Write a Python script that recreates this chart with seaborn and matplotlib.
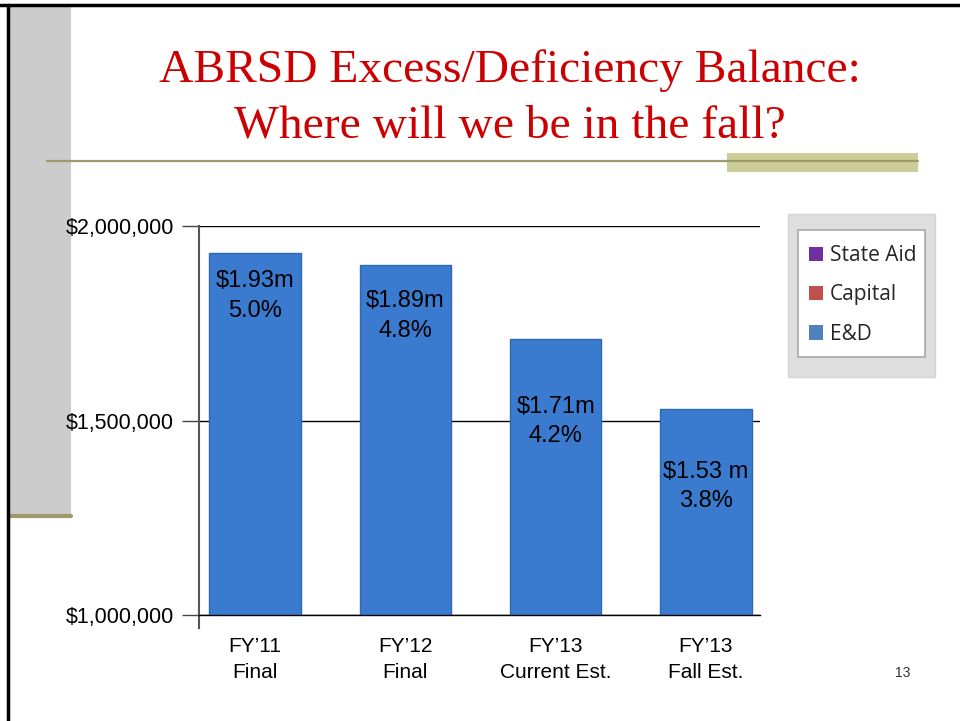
import numpy as np
import pandas as pd
import matplotlib
matplotlib.use("Agg")
import matplotlib.pyplot as plt
from matplotlib.patches import Patch, Rectangle
from matplotlib.lines import Line2D
import seaborn as sns

# ============================================================
# Data
# ============================================================

categories = ["FY\u201911\nFinal", "FY\u201912\nFinal", "FY\u201913\nCurrent Est.", "FY\u201913\nFall Est."]
balance = [1930000, 1900000, 1710000, 1530000]
bar_labels = ["$1.93m\n5.0%", "$1.89m\n4.8%", "$1.71m\n4.2%", "$1.53 m\n3.8%"]
series_names = ["State Aid", "Capital", "E&D"]
series_colors = ["#7030a0", "#c0504d", "#4f81bd"]
y_ticks = [1000000, 1500000, 2000000]
y_tick_labels = ["$1,000,000", "$1,500,000", "$2,000,000"]

df = pd.DataFrame({"category": categories, "balance": balance})

# label text drop below each bar top, in pixels (layout only)
LABEL_DROP_PX = [17, 25, 57, 52]

# ============================================================
# Figure
# ============================================================

sns.set_theme(style="white")
plt.rcParams["font.family"] = ["Liberation Sans", "DejaVu Sans"]

W, H = 960, 721
fig = plt.figure(figsize=(9.6, 7.21), dpi=100)


def fx(px):
    return px / W


def fy(py):
    return 1 - py / H


# slide decorations (behind everything)
fig.add_artist(Rectangle((fx(10), fy(517)), fx(61), fy(7) - fy(517),
                         facecolor="#cccccc", edgecolor="none", zorder=-10))
fig.add_artist(Line2D([fx(10), fx(71)], [fy(516), fy(516)], color="#9c9a6a", lw=3, zorder=-9))
fig.add_artist(Rectangle((fx(727), fy(172)), fx(191), fy(153) - fy(172),
                         facecolor="#cccc99", edgecolor="none", zorder=-9))
fig.add_artist(Line2D([fx(47), fx(918)], [fy(161), fy(161)], color="#9c9a6a", lw=1.6, zorder=-8))
fig.add_artist(Line2D([fx(0), fx(960)], [fy(5), fy(5)], color="black", lw=2.5))
fig.add_artist(Line2D([fx(8), fx(8)], [fy(5), fy(721)], color="black", lw=2.5))

title_font = ["Liberation Serif", "DejaVu Serif"]
fig.text(fx(510), fy(82), "ABRSD Excess/Deficiency Balance:", ha="center", va="baseline",
         fontsize=34.2, color="#cc0000", family=title_font)
fig.text(fx(510), fy(138), "Where will we be in the fall?", ha="center", va="baseline",
         fontsize=34.2, color="#cc0000", family=title_font)

# ============================================================
# Bar chart
# ============================================================

ax_left, ax_right, ax_top, ax_bottom = 199, 760, 226, 615
ax = fig.add_axes([fx(ax_left), fy(ax_bottom), fx(ax_right) - fx(ax_left), fy(ax_top) - fy(ax_bottom)])

sns.barplot(
    data=df,
    x="category",
    y="balance",
    color="#3a7bd0",
    width=0.61,
    edgecolor="#2f68b0",
    linewidth=1,
    saturation=1,
    ax=ax,
)

ax.set_xlim(-0.373, 3.36)
ax.set_ylim(1000000, 2000000)
ax.set_yticks(y_ticks)
ax.set_yticklabels(y_tick_labels, fontsize=15.5)
ax.set_xlabel("")
ax.set_ylabel("")
ax.tick_params(axis="x", length=0, labelsize=15, pad=16, labelcolor="black")
for lab in ax.get_xticklabels():
    lab.set_linespacing(1.42)
ax.tick_params(axis="y", direction="out", length=12, width=1, color="#444444", pad=6,
               left=True, labelcolor="black")

ax.yaxis.grid(True, color="black", lw=1)
ax.set_axisbelow(True)
for side in ["top", "right"]:
    ax.spines[side].set_visible(False)
ax.spines["bottom"].set_color("black")
ax.spines["bottom"].set_linewidth(1)
ax.spines["left"].set_color("#555555")
ax.spines["left"].set_linewidth(1.5)
ax.spines["left"].set_bounds(967000, 2000000)

per_px = 1000000 / (ax_bottom - ax_top)
for patch, label, drop in zip(ax.patches, bar_labels, LABEL_DROP_PX):
    cx = patch.get_x() + patch.get_width() / 2
    top = patch.get_height()
    ax.text(cx, top - drop * per_px, label, ha="center", va="top", fontsize=17,
            color="black", linespacing=1.45)

# ============================================================
# Legend
# ============================================================

fig.add_artist(Rectangle((fx(788), fy(377)), fx(147), fy(214) - fy(377),
                         facecolor="#dedede", edgecolor="#d4d4d4", lw=1))
fig.add_artist(Rectangle((fx(798), fy(357)), fx(127), fy(230) - fy(357),
                         facecolor="white", edgecolor="#a8a8a8", lw=1.2))

handles = [Patch(facecolor=c, edgecolor="none") for c in series_colors]
fig.legend(
    handles,
    series_names,
    loc="upper left",
    bbox_to_anchor=(fx(809), fy(245)),
    frameon=False,
    labelspacing=0.88,
    handlelength=0.68,
    handleheight=0.68,
    handletextpad=0.33,
    borderpad=0,
    borderaxespad=0,
    prop={"family": ["Open Sans", "DejaVu Sans"], "size": 15},
)

fig.text(fx(903), fy(673), "13", ha="center", va="center", fontsize=10, color="#333333")

fig.savefig("out.png", dpi=100)
plt.close(fig)
